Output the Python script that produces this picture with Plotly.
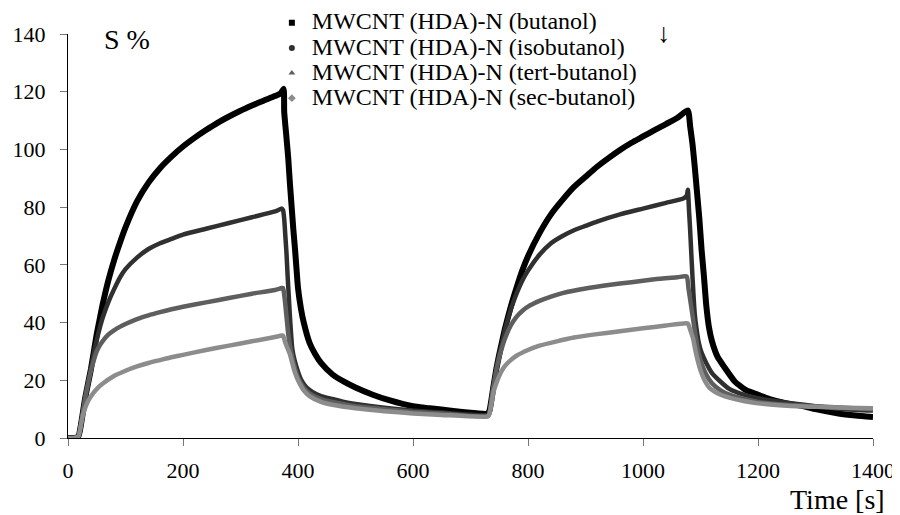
import plotly.graph_objects as go

FONT = "Liberation Serif"

names = ["MWCNT (HDA)-N (butanol)", "MWCNT (HDA)-N (isobutanol)",
         "MWCNT (HDA)-N (tert-butanol)", "MWCNT (HDA)-N (sec-butanol)"]
colors = ["#000000", "#303030", "#5e5e5e", "#8c8c8c"]
symbols = ["square", "circle", "triangle-up", "diamond"]

but_t = [0, 10, 18, 22, 26, 30, 35, 40, 45, 50, 55, 60, 70, 80, 90, 100, 120, 140, 160, 180, 200,
         220, 240, 260, 280, 300, 320, 340, 360, 370, 375, 376, 380, 383, 386, 389, 392, 395, 398,
         400, 405, 410, 420, 430, 440, 460, 480, 500, 530, 560, 600, 620, 730, 733, 737, 740, 745,
         750, 755, 760, 770, 780, 790, 800, 820, 840, 860, 880, 900, 920, 940, 960, 980, 1000,
         1020, 1040, 1060, 1078, 1082, 1086, 1090, 1094, 1098, 1102, 1106, 1110, 1115, 1120, 1130,
         1140, 1160, 1180, 1200, 1220, 1250, 1280, 1300, 1340, 1370, 1400]
but_v = [0, 0, 0.5, 4, 9, 14, 19, 24, 30, 36, 41, 46, 54.5, 61.5, 67.5, 73, 82, 88.5, 93.5, 97.5, 101,
         104, 106.7, 109.2, 111.4, 113.4, 115.2, 116.9, 118.5, 119.5, 121, 113, 104, 97, 88, 80, 72, 65, 57,
         52, 45, 40, 33, 29, 26, 22, 19.5, 17.5, 15, 13, 11, 10.5, 8.5, 9.5, 14, 18, 24,
         29, 33.5, 38, 45.5, 52, 58, 63, 71, 77.5, 82.5, 87, 90.5, 94, 97, 99.8, 102.3, 104.5,
         106.7, 108.8, 111, 113.5, 108, 102, 94, 85, 76, 65, 56, 46, 38, 33.5, 28,
         25, 19.5, 16.5, 15, 13.5, 12, 11, 10, 8.5, 7.8, 7.3]

iso_t = [0, 10, 18, 22, 26, 30, 35, 40, 45, 50, 55, 60, 70, 80, 90, 100, 120, 140, 160, 180, 200,
         240, 280, 320, 360, 372, 374, 376, 378, 380, 382, 384, 386, 388, 390, 394, 400, 406, 415,
         425, 440, 460, 480, 500, 550, 600, 650, 730, 733, 737, 740, 745, 750, 755, 760, 770, 780,
         790, 800, 820, 840, 860, 880, 900, 920, 960, 1000, 1040, 1070, 1076, 1078, 1080, 1082,
         1084, 1086, 1088, 1090, 1093, 1097, 1102, 1110, 1120, 1135, 1150, 1175, 1200, 1230, 1260,
         1300, 1350, 1400]
iso_v = [0, 0, 0.5, 4, 9, 14, 19, 24, 29.5, 34, 38, 41.5, 47, 51.5, 55.5, 58.5, 62.5, 65.5, 67.5, 69, 70.5,
         72.5, 74.5, 76.5, 78.5, 79.5, 79, 76, 70, 64, 56, 49, 42, 36, 31, 27, 23, 20, 17.5,
         16, 14.5, 13.5, 12.5, 11.8, 10.5, 9.5, 8.8, 8, 9, 14, 18, 24, 29, 33, 37.5, 44.5, 50,
         54.5, 58, 63.5, 67.5, 70, 72, 73.5, 75, 77.5, 79.5, 81.5, 83, 84, 86, 79, 72,
         64, 56, 49, 43, 38, 33, 29.5, 26, 22.5, 19.5, 17, 15, 13.8, 12.8, 12,
         11, 10, 9.5]

tert_t = [0, 10, 18, 22, 26, 30, 35, 40, 45, 50, 55, 60, 70, 80, 90, 100, 120, 140, 160, 180, 200,
          240, 280, 320, 360, 372, 374, 377, 379, 381, 383, 386, 390, 395, 400, 410, 420, 440, 460,
          500, 550, 600, 650, 730, 733, 737, 740, 745, 750, 755, 760, 770, 780, 790, 800, 820, 840,
          860, 900, 940, 980, 1020, 1060, 1076, 1079, 1082, 1085, 1088, 1091, 1095, 1100, 1110,
          1120, 1135, 1150, 1175, 1200, 1250, 1300, 1350, 1400]
tert_v = [0, 0, 0.5, 4, 9, 14, 19, 23.5, 27, 30, 32, 33.5, 35.8, 37.3, 38.5, 39.5, 41.2, 42.5, 43.6, 44.6, 45.5,
          47, 48.5, 50, 51.3, 52, 52, 48, 44, 40, 36, 32, 28, 24, 21, 17.5, 15.5, 13.5, 12.5,
          11, 10, 9, 8.5, 7.5, 8.5, 14, 18, 23.5, 28, 31.5, 34.5, 39, 42, 44, 45.5, 47.5, 49,
          50.2, 51.8, 53, 54, 55, 55.7, 56, 52, 48, 44, 40, 36, 31, 27, 22,
          19, 16.5, 15, 13.5, 12.5, 11.5, 11, 10.5, 10]

sec_t = [0, 10, 18, 22, 26, 30, 35, 40, 50, 60, 80, 100, 120, 140, 160, 180, 200, 240, 280, 320,
         360, 372, 374, 378, 382, 386, 390, 395, 400, 410, 420, 440, 460, 500, 550, 600, 650, 730,
         733, 737, 740, 745, 750, 755, 760, 770, 780, 800, 820, 850, 880, 920, 960, 1000, 1040,
         1075, 1078, 1083, 1087, 1091, 1095, 1100, 1107, 1115, 1125, 1135, 1150, 1175, 1200, 1250,
         1300, 1350, 1400]
sec_v = [0, 0, 0.5, 4, 8, 10.5, 12.8, 14.5, 17, 18.8, 21.5, 23.3, 24.8, 26, 27, 28, 28.8, 30.5, 32, 33.5,
         35, 35.5, 35.5, 33, 31, 29, 26, 22.5, 20, 16.5, 14.5, 12.5, 11.5, 10.3, 9.3, 8.5, 8, 7.5,
         8.5, 12.5, 16, 19, 21.5, 23.5, 25, 27, 28.5, 30.5, 32, 33.5, 34.8, 36, 37, 38, 39,
         39.8, 39.7, 37, 34.5, 30.5, 27, 23.5, 20, 17.5, 16, 15, 14, 12.8, 12, 11.2,
         10.8, 10.5, 10.3]

series_t = [but_t, iso_t, tert_t, sec_t]
series_v = [but_v, iso_v, tert_v, sec_v]
widths = [6, 4.5, 4.5, 4.5]

x_ticks = [0, 200, 400, 600, 800, 1000, 1200, 1400]
y_ticks = [0, 20, 40, 60, 80, 100, 120, 140]

# page body margin offsets the figure by 8px in the screenshot
OFF = 8
L, R, T, B = 60, 34.5, 25.7, 85.4
PW, PH = 900 - L - R, 515 - T - B


def px(xs):
    return (xs - OFF - L) / PW


def py(ys):
    return (515 - B - (ys - OFF)) / PH


fig = go.Figure()
for t, v, c, w in zip(series_t, series_v, colors, widths):
    fig.add_trace(go.Scatter(x=t, y=v, mode="lines",
                             line=dict(color=c, width=w, shape="spline", smoothing=0.5),
                             showlegend=False, hoverinfo="skip"))
for n, c, s in zip(names, colors, symbols):
    fig.add_trace(go.Scatter(x=[None], y=[None], mode="markers",
                             name='<span style="font-size:24px">' + n + '</span>',
                             marker=dict(color=c, symbol=s, size=6)))

axis_common = dict(showgrid=False, zeroline=False, showline=True, linecolor="black", linewidth=1,
                   ticks="outside", ticklen=7, tickcolor="#777777",
                   tickfont=dict(family=FONT, size=22, color="black"))

fig.update_layout(
    width=900, height=515,
    margin=dict(l=L, r=R, t=T, b=B, autoexpand=False),
    paper_bgcolor="white", plot_bgcolor="white",
    font=dict(family=FONT, color="black"),
    xaxis=dict(range=[0, 1400], tickvals=x_ticks, ticklabelstandoff=6, **axis_common),
    yaxis=dict(range=[0, 140], tickvals=y_ticks, ticklabelstandoff=10, **axis_common),
    legend=dict(x=px(272), y=py(5), xanchor="left", yanchor="top", bgcolor="rgba(0,0,0,0)",
                font=dict(family=FONT, size=17, color="black"), itemwidth=30,
                tracegroupgap=0),
    annotations=[
        dict(text="S %", xref="paper", yref="paper", x=px(127.5), y=py(39),
             xanchor="center", yanchor="middle",
             showarrow=False, font=dict(family=FONT, size=28, color="black")),
        dict(text="↓", xref="paper", yref="paper", x=px(664), y=py(33),
             xanchor="center", yanchor="middle",
             showarrow=False, font=dict(family=FONT, size=27, color="black")),
        dict(text="Time [s]", xref="paper", yref="paper", x=px(838), y=py(499),
             xanchor="center", yanchor="middle",
             showarrow=False, font=dict(family=FONT, size=28, color="black")),
    ],
)

fig.write_html("out.html")
